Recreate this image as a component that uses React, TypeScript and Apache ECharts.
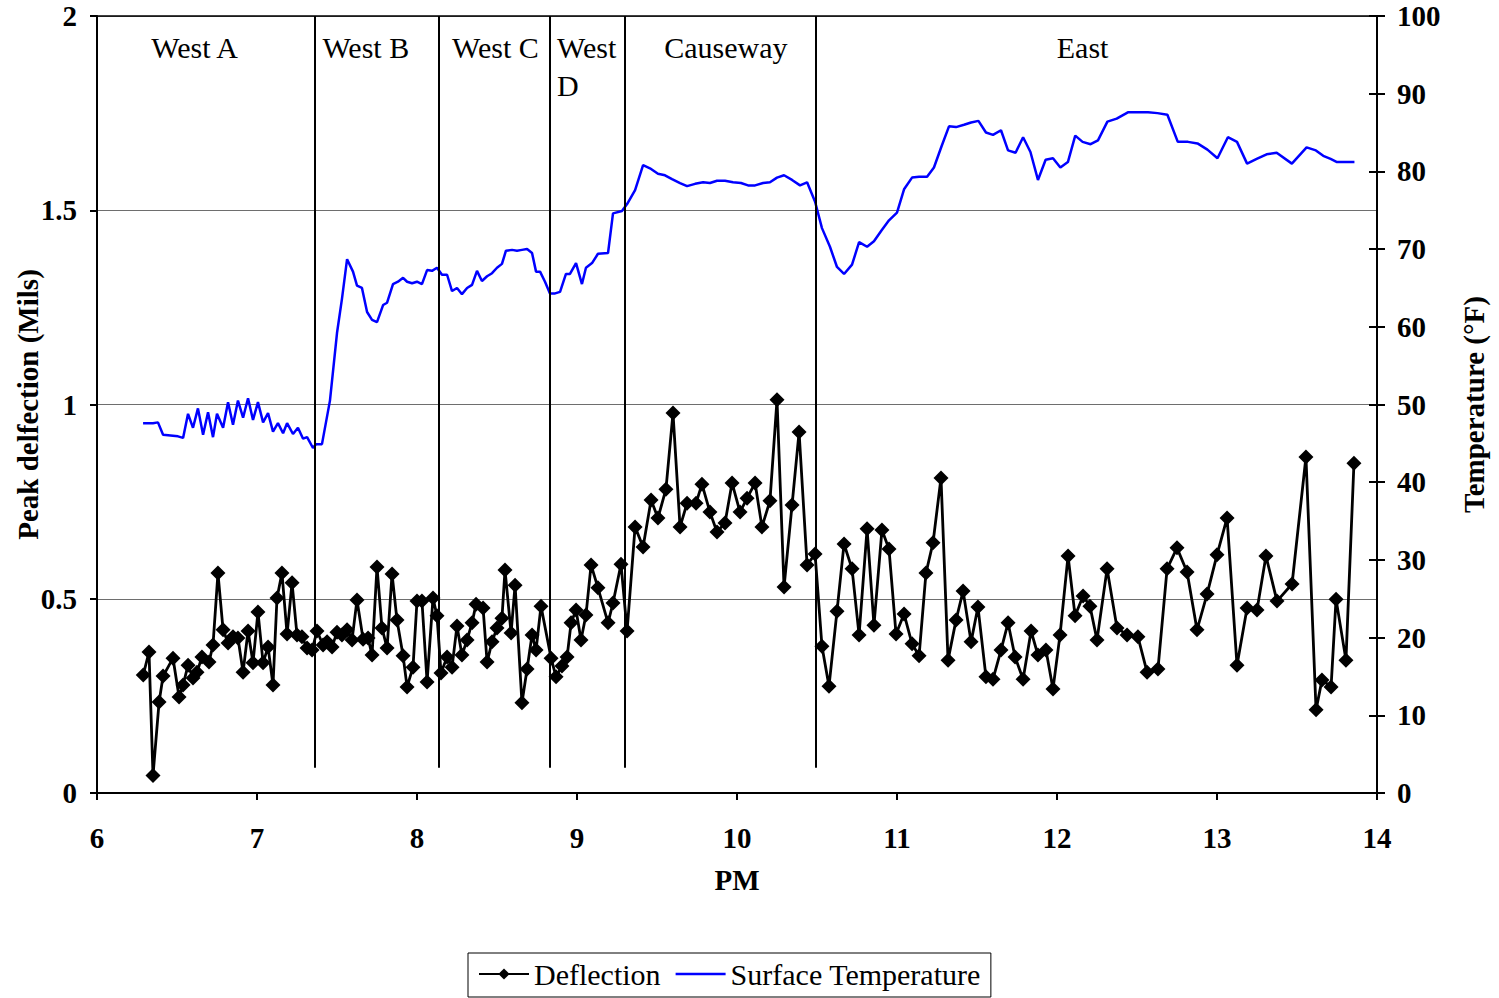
import React, { useEffect, useRef } from "react";
import * as echarts from "echarts";

const deflectionPM = [
  6.289, 6.325, 6.35, 6.388, 6.413, 6.475, 6.513, 6.538, 6.569, 6.6, 6.625, 6.656, 6.7, 6.725, 6.756, 6.788, 6.819, 6.85, 6.881, 6.913,
  6.944, 6.975, 7.006, 7.038, 7.069, 7.1, 7.125, 7.156, 7.188, 7.219, 7.25, 7.281, 7.313, 7.344, 7.375, 7.413, 7.438, 7.469, 7.5, 7.531,
  7.563, 7.594, 7.625, 7.663, 7.694, 7.719, 7.75, 7.781, 7.813, 7.844, 7.875, 7.913, 7.938, 7.975, 8.0, 8.031, 8.063, 8.1, 8.125, 8.15,
  8.188, 8.219, 8.25, 8.281, 8.313, 8.344, 8.369, 8.413, 8.438, 8.469, 8.5, 8.531, 8.55, 8.588, 8.613, 8.656, 8.688, 8.719, 8.744, 8.775,
  8.838, 8.869, 8.906, 8.938, 8.963, 8.994, 9.025, 9.056, 9.088, 9.131, 9.194, 9.225, 9.275, 9.313, 9.363, 9.413, 9.463, 9.506, 9.556, 9.6,
  9.644, 9.688, 9.744, 9.781, 9.831, 9.875, 9.925, 9.969, 10.019, 10.063, 10.113, 10.156, 10.206, 10.25, 10.294, 10.344, 10.388, 10.438, 10.488, 10.531,
  10.575, 10.625, 10.669, 10.719, 10.763, 10.813, 10.856, 10.906, 10.95, 10.994, 11.044, 11.094, 11.138, 11.181, 11.225, 11.275, 11.319, 11.369, 11.413, 11.463,
  11.506, 11.556, 11.6, 11.65, 11.694, 11.738, 11.788, 11.838, 11.881, 11.931, 11.975, 12.019, 12.069, 12.113, 12.163, 12.206, 12.25, 12.313, 12.375, 12.438,
  12.506, 12.563, 12.631, 12.688, 12.75, 12.813, 12.875, 12.938, 13.0, 13.063, 13.125, 13.188, 13.25, 13.306, 13.375, 13.469, 13.556, 13.619, 13.656, 13.713,
  13.744, 13.806, 13.856,
];
const deflectionMils = [
  0.304, 0.363, 0.045, 0.234, 0.301, 0.347, 0.247, 0.278, 0.329, 0.296, 0.311, 0.35, 0.337, 0.381, 0.566, 0.42, 0.386, 0.402, 0.399, 0.311,
  0.417, 0.335, 0.466, 0.335, 0.376, 0.278, 0.502, 0.566, 0.409, 0.541, 0.407, 0.402, 0.373, 0.368, 0.417, 0.381, 0.389, 0.376, 0.414, 0.407,
  0.42, 0.394, 0.497, 0.396, 0.399, 0.355, 0.582, 0.425, 0.373, 0.564, 0.445, 0.353, 0.273, 0.324, 0.494, 0.494, 0.286, 0.502, 0.456, 0.309,
  0.35, 0.324, 0.43, 0.355, 0.394, 0.438, 0.486, 0.476, 0.337, 0.389, 0.425, 0.45, 0.574, 0.412, 0.535, 0.232, 0.319, 0.407, 0.368, 0.481,
  0.347, 0.299, 0.327, 0.35, 0.438, 0.471, 0.394, 0.458, 0.587, 0.528, 0.438, 0.489, 0.589, 0.417, 0.685, 0.633, 0.754, 0.708, 0.782, 0.978,
  0.685, 0.746, 0.746, 0.795, 0.723, 0.672, 0.695, 0.798, 0.723, 0.759, 0.798, 0.685, 0.752, 1.012, 0.53, 0.741, 0.929, 0.587, 0.615, 0.378,
  0.275, 0.468, 0.641, 0.577, 0.407, 0.68, 0.432, 0.677, 0.628, 0.409, 0.461, 0.384, 0.353, 0.566, 0.644, 0.811, 0.342, 0.445, 0.52, 0.389,
  0.479, 0.299, 0.293, 0.368, 0.438, 0.35, 0.293, 0.417, 0.355, 0.368, 0.268, 0.407, 0.61, 0.456, 0.507, 0.481, 0.394, 0.577, 0.425, 0.407,
  0.402, 0.311, 0.319, 0.577, 0.631, 0.569, 0.42, 0.512, 0.613, 0.708, 0.329, 0.476, 0.471, 0.61, 0.494, 0.538, 0.865, 0.214, 0.291, 0.273,
  0.499, 0.342, 0.849,
];

const temperaturePM = [
  6.288, 6.35, 6.381, 6.413, 6.506, 6.538, 6.569, 6.6, 6.631, 6.663, 6.694, 6.725, 6.75, 6.788, 6.819, 6.85, 6.881, 6.913, 6.944, 6.975,
  7.006, 7.038, 7.069, 7.1, 7.131, 7.163, 7.188, 7.225, 7.256, 7.288, 7.313, 7.35, 7.369, 7.406, 7.456, 7.5, 7.531, 7.563, 7.6, 7.625,
  7.656, 7.688, 7.719, 7.75, 7.788, 7.813, 7.85, 7.881, 7.913, 7.938, 7.969, 8.0, 8.031, 8.063, 8.094, 8.125, 8.156, 8.188, 8.219, 8.25,
  8.281, 8.313, 8.344, 8.375, 8.406, 8.438, 8.469, 8.5, 8.531, 8.556, 8.594, 8.625, 8.656, 8.688, 8.719, 8.744, 8.769, 8.8, 8.831, 8.863,
  8.894, 8.931, 8.956, 8.994, 9.031, 9.056, 9.094, 9.131, 9.194, 9.225, 9.281, 9.313, 9.363, 9.413, 9.456, 9.506, 9.55, 9.594, 9.644, 9.688,
  9.738, 9.788, 9.831, 9.875, 9.925, 9.975, 10.025, 10.069, 10.113, 10.163, 10.206, 10.25, 10.294, 10.344, 10.394, 10.438, 10.488, 10.531, 10.581, 10.625,
  10.669, 10.719, 10.763, 10.813, 10.856, 10.903, 10.95, 11.0, 11.044, 11.094, 11.138, 11.188, 11.231, 11.278, 11.325, 11.369, 11.419, 11.463, 11.509, 11.556,
  11.6, 11.65, 11.694, 11.741, 11.788, 11.834, 11.881, 11.929, 11.975, 12.021, 12.068, 12.114, 12.16, 12.21, 12.256, 12.315, 12.373, 12.443, 12.512, 12.569,
  12.628, 12.69, 12.755, 12.819, 12.878, 12.94, 13.003, 13.068, 13.125, 13.188, 13.248, 13.31, 13.373, 13.468, 13.56, 13.618, 13.664, 13.71, 13.75, 13.859,
];
const temperatureF = [
  47.6, 47.6, 47.7, 46.1, 45.9, 45.7, 48.8, 47.0, 49.5, 46.1, 49.0, 45.8, 48.8, 47.0, 50.3, 47.4, 50.5, 48.3, 50.8, 48.0,
  50.3, 47.7, 48.9, 46.5, 47.6, 46.3, 47.6, 46.2, 47.0, 45.6, 45.8, 44.4, 44.9, 44.9, 50.5, 59.2, 63.6, 68.7, 67.1, 65.3,
  65.0, 61.9, 60.9, 60.6, 62.8, 63.1, 65.5, 65.8, 66.3, 65.8, 65.6, 65.8, 65.5, 67.3, 67.2, 67.6, 66.7, 66.7, 64.6, 65.0,
  64.2, 65.0, 65.4, 67.2, 65.9, 66.5, 66.9, 67.6, 68.1, 69.8, 69.9, 69.8, 69.9, 70.0, 69.5, 67.1, 67.1, 65.8, 64.3, 64.3,
  64.5, 66.8, 66.8, 68.2, 65.5, 67.6, 68.2, 69.4, 69.5, 74.6, 74.9, 75.8, 77.6, 80.8, 80.4, 79.7, 79.5, 79.0, 78.5, 78.1,
  78.4, 78.6, 78.5, 78.8, 78.8, 78.6, 78.5, 78.2, 78.2, 78.5, 78.6, 79.2, 79.5, 78.9, 78.2, 78.6, 76.1, 72.7, 70.3, 67.7,
  66.8, 68.0, 70.9, 70.3, 71.0, 72.4, 73.7, 74.7, 77.7, 79.2, 79.3, 79.3, 80.5, 83.2, 85.8, 85.7, 86.0, 86.3, 86.5, 85.0,
  84.7, 85.3, 82.7, 82.4, 84.4, 82.5, 78.9, 81.5, 81.7, 80.5, 81.2, 84.6, 83.8, 83.5, 84.0, 86.4, 86.8, 87.6, 87.6, 87.6,
  87.5, 87.3, 83.8, 83.8, 83.6, 82.8, 81.7, 84.4, 83.8, 81.0, 81.6, 82.2, 82.4, 81.0, 83.1, 82.7, 82.0, 81.6, 81.2, 81.2,
];

const sectionBounds = [7.3625, 8.1375, 8.831, 9.3, 10.494];
const sectionNames = ["West A", "West B", "West C", "West\nD", "Causeway", "East"];
const sectionLabelPM = [6.61, 7.68, 8.49, 8.875, 9.93, 12.16];
const sectionLabelAlign = ["center", "center", "center", "left", "center", "center"];

const xTicks = [6, 7, 8, 9, 10, 11, 12, 13, 14];
const FONT = "Liberation Serif";

export default function App() {
  const ref = useRef<HTMLDivElement>(null);
  useEffect(() => {
    document.body.style.margin = "0";
    if (!ref.current) return;
    const chart = echarts.init(ref.current, null, { renderer: "svg" });
    const deflData = deflectionPM.map((x, i) => [x, deflectionMils[i]]);
    const tempData = temperaturePM.map((x, i) => [x, temperatureF[i]]);
    const labelData = sectionNames.map((n, i) => ({
      value: [sectionLabelPM[i], n.includes("\n") ? 1.869 : 1.918],
      label: { formatter: n, align: sectionLabelAlign[i] },
    }));
    const labelFont = { fontFamily: FONT, fontSize: 29, fontWeight: "bold", color: "#000" };
    chart.setOption({
      animation: false,
      backgroundColor: "#fff",
      textStyle: { fontFamily: FONT },
      grid: { left: 97, right: 122, top: 16, bottom: 205, containLabel: false, outerBoundsMode: "none" },
      legend: {
        data: [
          { name: "Deflection" },
          { name: "Surface Temperature", icon: "path://M0,0 L50,0 L50,2.5 L0,2.5 Z" },
        ],
        left: 468,
        top: 953,
        itemWidth: 50,
        itemHeight: 14,
        itemGap: 15,
        padding: [6, 10, 8, 10],
        borderColor: "#000",
        borderWidth: 1,
        textStyle: { fontFamily: FONT, fontSize: 30, color: "#000" },
      },
      xAxis: [
        {
          type: "value",
          min: 6,
          max: 14,
          interval: 1,
          name: "PM",
          nameLocation: "middle",
          nameGap: 72,
          nameMoveOverlap: false,
          nameTextStyle: labelFont,
          axisLine: { show: true, lineStyle: { color: "#000", width: 2 } },
          axisTick: { show: true, inside: false, length: 7, lineStyle: { color: "#000", width: 2 } },
          axisLabel: { ...labelFont, margin: 30, formatter: (v: number) => (xTicks.includes(v) ? String(v) : "") },
          splitLine: { show: false },
        },
        {
          type: "value",
          position: "top",
          min: 6,
          max: 14,
          axisLine: { show: true, onZero: false, lineStyle: { color: "#000", width: 1.5 } },
          axisTick: { show: false },
          axisLabel: { show: false },
          splitLine: { show: false },
        },
      ],
      yAxis: [
        {
          type: "value",
          min: 0,
          max: 2,
          interval: 0.5,
          name: "Peak delfection (Mils)",
          nameLocation: "middle",
          nameRotate: 90,
          nameGap: 55,
          nameMoveOverlap: false,
          nameTextStyle: labelFont,
          axisLine: { show: true, lineStyle: { color: "#000", width: 2 } },
          axisTick: { show: true, inside: false, length: 7, lineStyle: { color: "#000", width: 2 } },
          axisLabel: { ...labelFont, margin: 20 },
          splitLine: { show: true, lineStyle: { color: "#6e6e6e", width: 1.2 } },
        },
        {
          type: "value",
          min: 0,
          max: 100,
          interval: 10,
          position: "right",
          name: "Temperature (°F)",
          nameLocation: "middle",
          nameRotate: 90,
          nameGap: 82,
          nameMoveOverlap: false,
          nameTextStyle: labelFont,
          axisLine: { show: true, lineStyle: { color: "#000", width: 2 } },
          axisTick: { show: true, inside: false, length: 8, lineStyle: { color: "#000", width: 2 } },
          axisLabel: { ...labelFont, margin: 20 },
          splitLine: { show: false },
        },
        {
          type: "value",
          min: 0,
          max: 100,
          interval: 10,
          position: "right",
          axisLine: { show: false },
          axisTick: { show: true, inside: true, length: 8, lineStyle: { color: "#000", width: 2 } },
          axisLabel: { show: false },
          splitLine: { show: false },
        },
      ],
      series: [
        {
          name: "Deflection",
          type: "line",
          data: deflData,
          yAxisIndex: 0,
          symbol: "diamond",
          symbolSize: 15,
          showAllSymbol: true,
          itemStyle: { color: "#000" },
          lineStyle: { color: "#000", width: 2.8 },
          z: 4,
          markLine: {
            silent: true,
            symbol: ["none", "none"],
            label: { show: false },
            lineStyle: { color: "#000", width: 2, type: "solid" },
            data: sectionBounds.map((b) => [{ coord: [b, 2] }, { coord: [b, 0.065] }]),
          },
        },
        {
          name: "Surface Temperature",
          type: "line",
          data: tempData,
          yAxisIndex: 1,
          symbol: "none",
          itemStyle: { color: "#0000ff" },
          lineStyle: { color: "#0000ff", width: 2.5 },
          z: 3,
        },
        {
          name: "sections",
          type: "scatter",
          data: labelData,
          yAxisIndex: 0,
          symbolSize: 0,
          silent: true,
          itemStyle: { color: "#000", opacity: 1 },
          label: {
            show: true,
            position: "inside",
            fontFamily: FONT,
            fontSize: 30,
            color: "#000",
            textBorderWidth: 0,
            lineHeight: 38,
          },
        },
      ],
    });
    return () => chart.dispose();
  }, []);
  return <div ref={ref} style={{ width: 1499, height: 998 }} />;
}
